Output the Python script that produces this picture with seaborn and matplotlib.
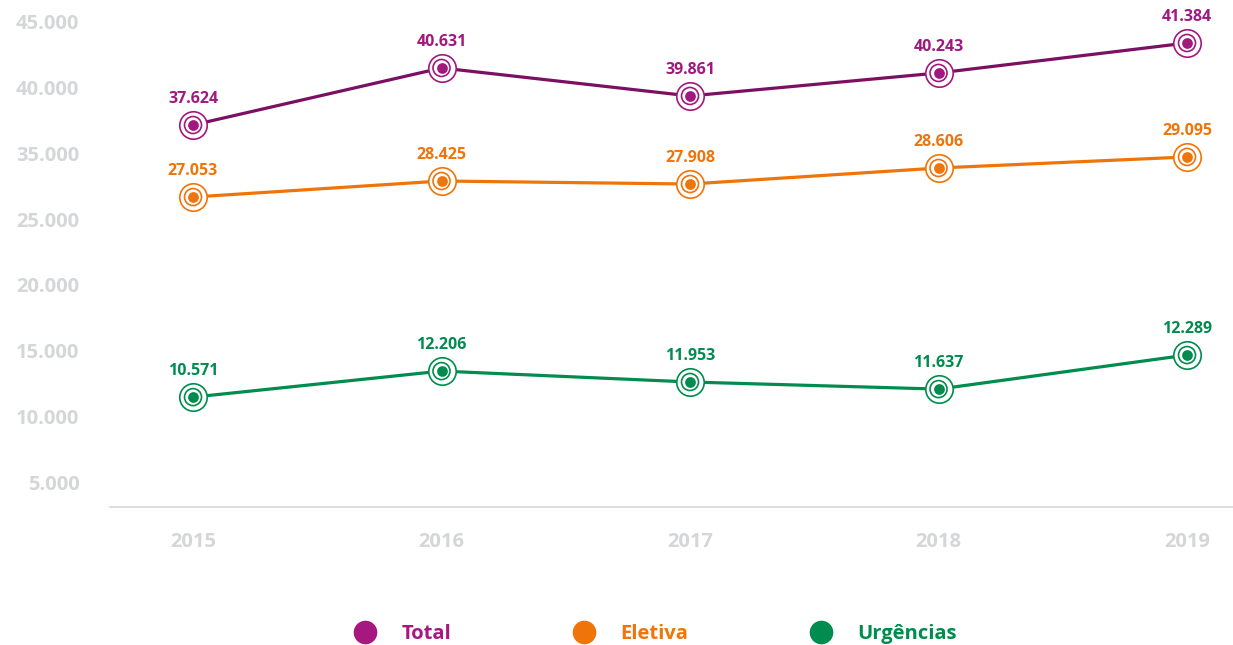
import numpy as np
import pandas as pd
import matplotlib
matplotlib.use("Agg")
import matplotlib.pyplot as plt
from matplotlib.lines import Line2D
import seaborn as sns

# data
years = [2015, 2016, 2017, 2018, 2019]
total_y = [37160, 41500, 39370, 41120, 43400]
eletiva_y = [31680, 32900, 32670, 33890, 34730]
urgencias_y = [16460, 18440, 17610, 17070, 19660]
# value labels as printed
total_lbl = ["37.624", "40.631", "39.861", "40.243", "41.384"]
eletiva_lbl = ["27.053", "28.425", "27.908", "28.606", "29.095"]
urgencias_lbl = ["10.571", "12.206", "11.953", "11.637", "12.289"]
ytick_pos = [45000, 40000, 35000, 30000, 25000, 20000, 15000, 10000]
ytick_lbl = ["45.000", "40.000", "35.000", "25.000", "20.000", "15.000", "10.000", "5.000"]
series_names = ["Total", "Eletiva", "Urgências"]

line_cols = {"Total": "#7b1063", "Eletiva": "#ef7409", "Urgências": "#008c4e"}
dot_cols = {"Total": "#a1197f", "Eletiva": "#ef7409", "Urgências": "#008c4e"}
grey = "#d5d6d8"

df = pd.DataFrame({
    "year": years * 3,
    "value": total_y + eletiva_y + urgencias_y,
    "label": total_lbl + eletiva_lbl + urgencias_lbl,
    "serie": ["Total"] * 5 + ["Eletiva"] * 5 + ["Urgências"] * 5,
})

sns.set_style("white")
plt.rcParams["font.family"] = ["Open Sans", "DejaVu Sans"]

fig = plt.figure(figsize=(12.33, 6.45), dpi=100)
ax = fig.add_axes([110 / 1233, 138 / 645, 1 - 110 / 1233, 1 - 138 / 645])

sns.lineplot(data=df, x="year", y="value", hue="serie", palette=line_cols,
             linewidth=2.3, legend=False, ax=ax, zorder=2)

for name in series_names:
    d = df[df.serie == name]
    c = dot_cols[name]
    ax.scatter(d.year, d.value, s=390, facecolors="white", edgecolors=c, linewidths=1.2, zorder=3)
    ax.scatter(d.year, d.value, s=150, facecolors="none", edgecolors=c, linewidths=1.2, zorder=4)
    ax.scatter(d.year, d.value, s=60, color=c, linewidths=0, zorder=5)
    for x, y, t in zip(d.year, d.value, d.label):
        ax.annotate(t, (x, y), xytext=(0, 13), textcoords="offset points",
                    ha="center", va="bottom", fontsize=11.5, fontweight="bold", color=c)

ax.set_xlim(2014.666, 2019.185)
ax.set_ylim(8100, 46670)
ax.set_xticks(years)
ax.set_xticklabels([str(y) for y in years])
ax.set_yticks(ytick_pos)
ax.set_yticklabels(ytick_lbl)
ax.tick_params(axis="both", length=0, colors=grey, labelsize=14.5)
ax.tick_params(axis="y", pad=22)
ax.tick_params(axis="x", pad=18)
for lab in ax.get_xticklabels() + ax.get_yticklabels():
    lab.set_fontweight("bold")
ax.set_xlabel("")
ax.set_ylabel("")
for s in ["top", "right", "left"]:
    ax.spines[s].set_visible(False)
ax.spines["bottom"].set_color(grey)
ax.spines["bottom"].set_linewidth(1.2)

handles = [Line2D([], [], marker="o", linestyle="", markersize=16,
                  color="#a6177f" if n == "Total" else dot_cols[n]) for n in series_names]
leg = fig.legend(handles, series_names, loc="center", bbox_to_anchor=(0.528, 11 / 645),
                 ncol=3, frameon=False, fontsize=14.5, handletextpad=0.8, columnspacing=5.6)
for txt, n in zip(leg.get_texts(), series_names):
    txt.set_color("#a6177f" if n == "Total" else dot_cols[n])
    txt.set_fontweight("bold")

fig.savefig("out.png", dpi=100)
